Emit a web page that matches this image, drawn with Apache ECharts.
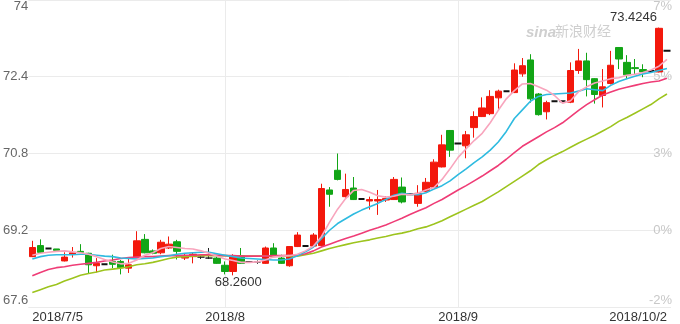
<!DOCTYPE html>
<html><head><meta charset="utf-8">
<script src="https://cdn.jsdelivr.net/npm/echarts@6/dist/echarts.min.js"></script>
<style>html,body{margin:0;padding:0;background:#fff}#c{width:680px;height:324px}</style>
</head><body><div id="c"></div>
<script>
const dates = [
'2018/7/5','2018/7/6','2018/7/7','2018/7/9','2018/7/10','2018/7/11','2018/7/12','2018/7/13','2018/7/14','2018/7/16',
'2018/7/17','2018/7/18','2018/7/19','2018/7/20','2018/7/21','2018/7/22','2018/7/23','2018/7/24','2018/7/25','2018/7/26',
'2018/7/27','2018/7/28','2018/7/30','2018/7/31',
'2018/8/1','2018/8/2','2018/8/3','2018/8/4','2018/8/5','2018/8/6','2018/8/7','2018/8/8','2018/8/9','2018/8/10',
'2018/8/11','2018/8/12','2018/8/13','2018/8/14','2018/8/15','2018/8/16','2018/8/17','2018/8/18','2018/8/20','2018/8/21',
'2018/8/22','2018/8/23','2018/8/24','2018/8/25','2018/8/27','2018/8/28','2018/8/29','2018/8/30','2018/8/31',
'2018/9/1','2018/9/3','2018/9/4','2018/9/5','2018/9/6','2018/9/7','2018/9/8','2018/9/10','2018/9/11','2018/9/12',
'2018/9/13','2018/9/14','2018/9/15','2018/9/17','2018/9/18','2018/9/19','2018/9/20','2018/9/21','2018/9/22','2018/9/24',
'2018/9/25','2018/9/26','2018/9/27','2018/9/28','2018/9/29',
'2018/10/1','2018/10/2'];

const opens = [
68.65,68.88,68.82,68.81,68.56,68.70,68.76,68.72,68.46,68.49,
68.55,68.55,68.41,68.63,69.01,68.77,68.73,68.83,68.96,68.62,
68.65,68.64,68.62,68.62,68.47,68.34,68.67,68.54,68.54,68.51,
68.83,68.62,68.46,68.86,68.87,68.87,68.88,70.04,70.45,69.90,
70.08,69.85,69.81,69.81,69.83,69.84,70.10,69.95,69.76,70.01,
70.10,70.52,71.28,71.01,70.96,71.34,71.57,71.63,71.96,72.10,
72.07,72.46,72.75,72.04,71.67,71.89,71.89,71.87,72.53,72.73,
72.36,72.01,72.26,73.01,72.70,72.59,72.55,72.52,72.50,72.94];
const closes = [
68.84,68.74,68.82,68.78,68.64,68.73,68.74,68.48,68.51,68.49,
68.49,68.42,68.48,68.98,68.73,68.72,68.95,68.91,68.76,68.67,
68.70,68.64,68.62,68.51,68.34,68.65,68.51,68.54,68.54,68.83,
68.65,68.51,68.86,69.10,68.87,69.10,70.07,69.95,70.26,70.05,
69.84,69.85,69.84,69.84,69.86,70.26,69.79,69.95,69.97,70.20,
70.62,70.98,70.87,71.01,71.19,71.57,71.75,71.99,72.10,72.10,
72.54,72.63,71.94,71.61,71.86,71.89,71.89,72.53,72.73,72.34,
72.03,72.19,72.64,72.77,72.44,72.57,72.50,72.52,73.41,72.94];
const lows = [
68.64,68.72,68.82,68.78,68.55,68.63,68.73,68.29,68.32,68.49,
68.41,68.28,68.31,68.62,68.72,68.70,68.70,68.81,68.59,68.58,
68.51,68.60,68.60,68.50,68.28,68.26,68.50,68.54,68.50,68.50,
68.64,68.50,68.44,68.85,68.87,68.85,68.86,69.69,70.24,69.88,
69.83,69.85,69.63,69.52,69.79,69.83,69.76,69.95,69.69,70.00,
70.09,70.51,70.73,71.01,70.70,71.13,71.56,71.60,71.73,72.10,
72.06,72.40,71.86,71.59,71.51,71.89,71.89,71.85,72.46,71.99,
71.84,71.76,72.24,72.56,72.35,72.46,72.39,72.52,72.49,72.94];
const highs = [
68.98,69.01,68.82,68.81,68.74,68.85,68.91,68.73,68.62,68.49,
68.69,68.58,68.60,69.18,69.12,68.80,69.00,69.07,69.00,68.71,
68.74,68.67,68.83,68.67,68.55,68.70,68.83,68.54,68.57,68.86,
68.93,68.69,68.87,69.16,68.87,69.14,70.17,70.10,70.80,70.38,
70.31,69.85,69.90,70.04,69.91,70.31,70.30,69.95,70.14,70.29,
70.68,71.19,71.29,71.01,71.27,71.68,71.97,72.12,72.13,72.10,
72.68,72.79,72.87,72.06,71.90,71.89,71.89,72.70,72.98,72.90,
72.37,72.56,72.94,73.02,72.85,72.77,72.66,72.52,73.4246,72.94];

const ma5 = [
68.68,68.72,68.74,68.76,68.77,68.75,68.73,68.70,68.65,68.59,
68.54,68.50,68.51,68.58,68.68,68.73,68.82,68.86,68.84,68.82,
68.81,68.77,68.72,68.66,68.60,68.57,68.53,68.53,68.54,68.58,
68.64,68.66,68.67,68.70,68.77,68.87,69.07,69.37,69.64,69.86,
70.03,70.05,69.99,69.92,69.89,69.91,69.95,69.94,69.97,70.04,
70.09,70.26,70.48,70.72,70.90,71.07,71.22,71.44,71.70,71.94,
72.11,72.25,72.26,72.19,72.12,72.01,71.85,71.90,72.09,72.19,
72.27,72.31,72.36,72.38,72.43,72.45,72.49,72.54,72.62,72.76];
const ma10 = [
68.60,68.65,68.68,68.69,68.69,68.69,68.70,68.70,68.68,68.66,
68.65,68.62,68.61,68.60,68.61,68.62,68.65,68.67,68.70,68.72,
68.73,68.74,68.74,68.71,68.68,68.65,68.62,68.61,68.60,68.59,
68.58,68.58,68.60,68.67,68.75,68.85,69.03,69.20,69.34,69.44,
69.54,69.62,69.69,69.76,69.84,69.93,69.97,69.95,69.94,69.98,
70.06,70.13,70.23,70.36,70.48,70.61,70.73,70.87,71.04,71.26,
71.53,71.71,71.89,71.99,72.03,72.04,72.05,72.06,72.10,72.15,
72.13,72.11,72.22,72.30,72.36,72.41,72.46,72.49,72.53,72.57];
const ma20 = [
68.25,68.32,68.38,68.42,68.44,68.47,68.49,68.51,68.53,68.56,
68.58,68.61,68.63,68.64,68.65,68.65,68.66,68.67,68.67,68.68,
68.68,68.69,68.69,68.68,68.67,68.67,68.66,68.66,68.66,68.66,
68.67,68.67,68.68,68.68,68.71,68.77,68.85,68.91,68.97,69.03,
69.08,69.14,69.20,69.25,69.31,69.38,69.45,69.53,69.60,69.67,
69.76,69.84,69.94,70.04,70.13,70.23,70.33,70.44,70.55,70.68,
70.82,70.95,71.05,71.15,71.25,71.34,71.44,71.57,71.70,71.82,
71.92,72.02,72.08,72.14,72.18,72.22,72.26,72.29,72.31,72.37];
const ma30 = [
67.90,67.96,68.02,68.07,68.14,68.20,68.26,68.30,68.33,68.37,
68.39,68.41,68.44,68.48,68.50,68.53,68.57,68.61,68.64,68.65,
68.66,68.67,68.67,68.67,68.67,68.66,68.66,68.66,68.66,68.66,
68.66,68.66,68.67,68.66,68.69,68.72,68.77,68.82,68.86,68.90,
68.94,68.97,69.00,69.04,69.07,69.11,69.14,69.18,69.23,69.27,
69.33,69.40,69.48,69.56,69.64,69.72,69.80,69.90,70.00,70.11,
70.22,70.33,70.44,70.57,70.67,70.76,70.84,70.93,71.02,71.10,
71.18,71.27,71.36,71.47,71.55,71.64,71.73,71.82,71.94,72.04];

const yTicks = [67.6, 69.2, 70.8, 72.4, 74];
const yTickLabels = ['67.6', '69.2', '70.8', '72.4', '74'];
const pctTickLabels = ['-2%', '0%', '3%', '5%', '7%'];
const xLabelDates = ['2018/7/5', '2018/8/1', '2018/9/1', '2018/10/2'];
const xLabelTexts = ['2018/7/5', '2018/8', '2018/9', '2018/10/2'];
const monthLineDates = ['2018/8/1', '2018/9/1'];

const FONT = '"Liberation Sans", Arial, sans-serif';
function tickIdx(v){ let b=0,d=1e9; yTicks.forEach((t,i)=>{const e=Math.abs(t-v); if(e<d){d=e;b=i;}}); return b; }

const chart = echarts.init(document.getElementById('c'), null, {renderer:'canvas'});
const UP = '#f3180c', DOWN = '#12a516';
const kData = dates.map((d, i) => {
  const v = [opens[i], closes[i], lows[i], highs[i]];
  const flat = opens[i] === closes[i] && lows[i] === highs[i];
  return flat ? {value: v, itemStyle: {borderWidth: 2, borderColorDoji: '#111'}} : v;
});
chart.setOption({
  animation: false,
  backgroundColor: '#fff',
  grid: {left: 26, right: 9, top: 0, bottom: 17, containLabel: false},
  xAxis: {
    type: 'category', data: dates, boundaryGap: true,
    axisLine: {show: false}, axisTick: {show: false}, splitLine: {show: false},
    axisLabel: {
      interval: (i, v) => xLabelDates.indexOf(v) >= 0,
      formatter: v => xLabelTexts[xLabelDates.indexOf(v)],
      color: '#333', fontSize: 13, fontFamily: FONT, margin: 4,
      alignMinLabel: 'left', alignMaxLabel: 'right'
    }
  },
  yAxis: [{
    type: 'value', min: yTicks[0], max: yTicks[4], interval: 1.6, position: 'left', scale: true,
    axisLine: {show: false}, axisTick: {show: false},
    splitLine: {lineStyle: {color: '#ebebeb', width: 1}},
    axisLabel: {color: '#666', fontSize: 13, fontFamily: FONT, margin: 0,
      formatter: v => yTickLabels[tickIdx(v)],
      verticalAlignMinLabel: 'bottom', verticalAlignMaxLabel: 'top'}
  }, {
    type: 'value', min: yTicks[0], max: yTicks[4], interval: 1.6, position: 'right', scale: true,
    axisLine: {show: false}, axisTick: {show: false}, splitLine: {show: false},
    axisLabel: {inside: true, color: '#c8c8c8', fontSize: 13, fontFamily: FONT, margin: -1,
      formatter: v => pctTickLabels[tickIdx(v)],
      verticalAlignMinLabel: 'bottom', verticalAlignMaxLabel: 'top'}
  }],
  graphic: [
    {type: 'text', left: 526, top: 25, z: 0, style: {text: 'sina', font: 'italic bold 15px "Liberation Sans"', fill: '#cfcfcf'}},
    {type: 'text', left: 555, top: 24, z: 0, style: {text: '新浪财经', font: '14px "Noto Sans CJK SC"', fill: '#cfcfcf'}}
  ],
  series: [{
    type: 'candlestick', name: 'K',
    data: kData,
    barWidth: 7,
    itemStyle: {color: UP, color0: DOWN, borderColor: UP, borderColor0: DOWN, borderColorDoji: '#222', borderWidth: 1},
    markPoint: {
      symbol: 'circle', symbolSize: 1, itemStyle: {color: 'rgba(0,0,0,0)'},
      data: [
        {type: 'max', valueDim: 'highest', label: {offset: [-2, -10], align: 'right'}},
        {type: 'min', valueDim: 'lowest', label: {offset: [5, 7], align: 'center'}}
      ],
      label: {show: true, position: 'inside', color: '#333', fontSize: 13, fontFamily: FONT,
        formatter: p => Number(p.value).toFixed(4)}
    }
  },
  {type: 'line', name: 'MA30', data: ma30, showSymbol: false, symbol: 'none', lineStyle: {color: '#9dc41e', width: 1.6}, itemStyle: {color: '#9dc41e'},
    markLine: {silent: true, z: 1, symbol: ['none', 'none'], label: {show: false},
      lineStyle: {color: '#ebebeb', type: 'solid', width: 1},
      data: monthLineDates.map(d => ({xAxis: d}))}},
  {type: 'line', name: 'MA20', data: ma20, showSymbol: false, symbol: 'none', lineStyle: {color: '#ef3c76', width: 1.6}},
  {type: 'line', name: 'MA10', data: ma10, showSymbol: false, symbol: 'none', lineStyle: {color: '#2fbbe0', width: 1.6}},
  {type: 'line', name: 'MA5', data: ma5, showSymbol: false, symbol: 'none', lineStyle: {color: '#f8a5bd', width: 1.6}}
  ]
});
</script></body></html>
